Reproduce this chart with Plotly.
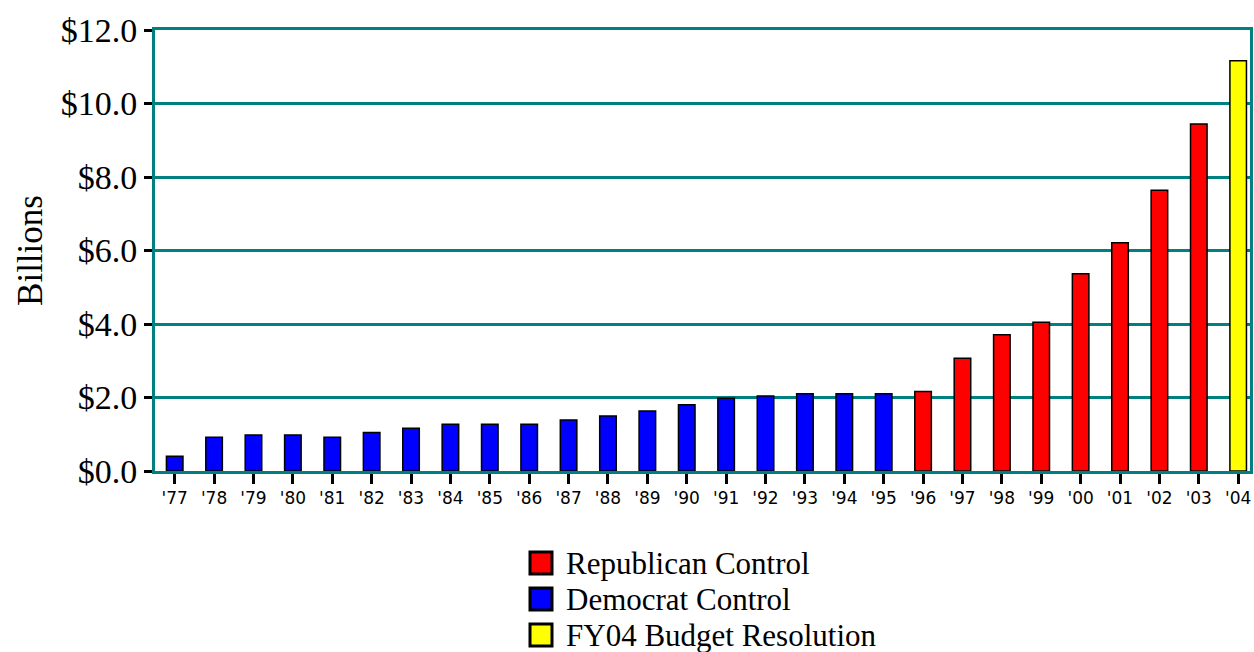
import plotly.graph_objects as go

# Fiscal years and appropriations (billions of dollars)
years = ["'77", "'78", "'79", "'80", "'81", "'82", "'83", "'84", "'85", "'86",
         "'87", "'88", "'89", "'90", "'91", "'92", "'93", "'94", "'95", "'96",
         "'97", "'98", "'99", "'00", "'01", "'02", "'03", "'04"]
amounts = [0.40, 0.92, 0.98, 0.98, 0.92, 1.05, 1.16, 1.27, 1.27, 1.27,
           1.39, 1.50, 1.63, 1.80, 1.98, 2.04, 2.10, 2.10, 2.10, 2.16,
           3.07, 3.71, 4.05, 5.37, 6.21, 7.64, 9.44, 11.16]
control = ["D"] * 19 + ["R"] * 8 + ["B"]

y_ticks = [0, 2, 4, 6, 8, 10, 12]
y_labels = ["$0.0", "$2.0", "$4.0", "$6.0", "$8.0", "$10.0", "$12.0"]

groups = [
    ("R", "Republican Control", "#FF0000"),
    ("D", "Democrat Control", "#0000FF"),
    ("B", "FY04 Budget Resolution", "#FFFF00"),
]

TEAL = "#008080"
SERIF = "Liberation Serif, Times New Roman, serif"

fig = go.Figure()
for key, name, color in groups:
    xs = [y for y, c in zip(years, control) if c == key]
    vs = [v for v, c in zip(amounts, control) if c == key]
    fig.add_trace(go.Bar(
        x=xs, y=vs, name=name, width=0.42, showlegend=False,
        marker=dict(color=color, line=dict(color="black", width=1.5)),
    ))

# Key below the plot: a bordered swatch and a label per party group
shapes = []
annotations = []
key_left = 530
key_top = 552
key_step = 36
swatch = 22
for i, (_, name, color) in enumerate(groups):
    top = key_top + i * key_step
    shapes.append(dict(
        type="rect", xref="paper", yref="paper",
        x0=(key_left - 155) / 1095, x1=(key_left + swatch - 155) / 1095,
        y0=(471 - top) / 441, y1=(471 - top - swatch) / 441,
        fillcolor=color, line=dict(color="black", width=3), layer="above",
    ))
    annotations.append(dict(
        text=name, xref="paper", yref="paper",
        x=(key_left + swatch + 12 - 155) / 1095, y=(471 - top - swatch / 2) / 441,
        xanchor="left", yanchor="middle", showarrow=False,
        font=dict(family=SERIF, size=31, color="black"),
    ))

annotations.append(dict(
    text="<b>IDEA Appropriations History</b>",
    xref="paper", yref="paper", x=0.429, y=1.0,
    xanchor="center", yanchor="bottom", yshift=28,
    showarrow=False, font=dict(family=SERIF, size=36, color="black"),
))

fig.update_layout(
    width=1254, height=652,
    margin=dict(l=155, r=4, t=30, b=181, autoexpand=False),
    paper_bgcolor="white", plot_bgcolor="white",
    barmode="overlay",
    showlegend=False,
    shapes=shapes,
    annotations=annotations,
)

fig.update_xaxes(
    type="category", categoryorder="array", categoryarray=years,
    showline=True, linecolor=TEAL, linewidth=3, mirror=True,
    showgrid=False,
    ticks="outside", ticklen=10, tickwidth=3, tickcolor="black",
    tickfont=dict(family="DejaVu Sans, sans-serif", size=17, color="black"),
    range=[-0.5, len(years) - 0.7],
)
fig.update_yaxes(
    range=[0, 12], tickvals=y_ticks, ticktext=y_labels,
    showline=True, linecolor=TEAL, linewidth=3, mirror=True,
    showgrid=True, gridcolor=TEAL, gridwidth=3,
    zeroline=False,
    ticks="outside", ticklen=8, tickwidth=3, tickcolor="black",
    tickfont=dict(family=SERIF, size=34, color="black"),
    title=dict(text="Billions", font=dict(family=SERIF, size=35, color="black"), standoff=8),
)

fig.write_html("out.html")
